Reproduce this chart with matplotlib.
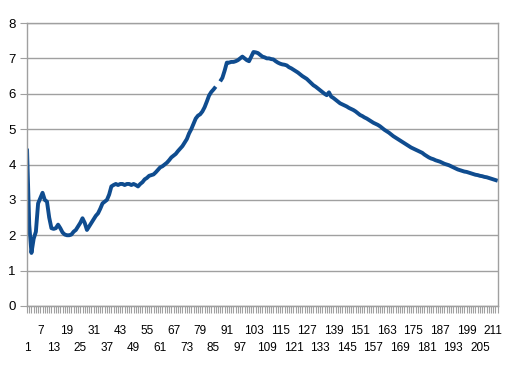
import matplotlib.pyplot as plt
import numpy as np

plt.rcParams['font.family'] = ['Liberation Sans', 'DejaVu Sans']

# series values, one per category (1..213); category 87 has no value
values = [
    4.45, 2.3, 1.5, 1.9, 2.1, 2.9, 3.05, 3.2, 3.0, 2.95,
    2.5, 2.2, 2.18, 2.2, 2.3, 2.2, 2.08, 2.02, 2.0, 2.0,
    2.02, 2.1, 2.15, 2.25, 2.35, 2.48, 2.35, 2.15, 2.25, 2.35,
    2.45, 2.55, 2.62, 2.75, 2.9, 2.95, 3.0, 3.15, 3.38, 3.42,
    3.45, 3.42, 3.45, 3.45, 3.42, 3.45, 3.45, 3.42, 3.45, 3.42,
    3.38, 3.45, 3.5, 3.58, 3.62, 3.68, 3.7, 3.72, 3.78, 3.85,
    3.92, 3.95, 4.0, 4.05, 4.12, 4.2, 4.25, 4.3, 4.38, 4.45,
    4.52, 4.62, 4.72, 4.88, 5.0, 5.15, 5.3, 5.38, 5.42, 5.5,
    5.62, 5.78, 5.95, 6.05, 6.12, 6.2, np.nan, 6.35, 6.45, 6.65,
    6.88, 6.88, 6.9, 6.9, 6.92, 6.95, 7.0, 7.05, 7.0, 6.95,
    6.92, 7.05, 7.18, 7.17, 7.15, 7.1, 7.05, 7.03, 7.0, 7.0,
    6.98, 6.97, 6.92, 6.88, 6.85, 6.83, 6.82, 6.8, 6.75, 6.72,
    6.68, 6.64, 6.6, 6.55, 6.5, 6.46, 6.42, 6.36, 6.3, 6.24,
    6.2, 6.15, 6.1, 6.05, 6.0, 5.96, 6.04, 5.92, 5.88, 5.83,
    5.78, 5.73, 5.7, 5.67, 5.64, 5.6, 5.57, 5.54, 5.5, 5.45,
    5.4, 5.37, 5.33, 5.3, 5.26, 5.22, 5.18, 5.15, 5.12, 5.08,
    5.03, 4.98, 4.94, 4.9, 4.85, 4.8, 4.76, 4.72, 4.68, 4.64,
    4.6, 4.56, 4.52, 4.48, 4.45, 4.42, 4.39, 4.36, 4.33, 4.28,
    4.24, 4.2, 4.17, 4.15, 4.12, 4.1, 4.08, 4.05, 4.02, 4.0,
    3.98, 3.95, 3.92, 3.89, 3.86, 3.84, 3.82, 3.8, 3.79, 3.77,
    3.75, 3.73, 3.71, 3.7, 3.68, 3.67, 3.65, 3.64, 3.62, 3.6,
    3.58, 3.56, 3.54,
]
categories = np.arange(1, len(values) + 1)
upper_labels = categories[6::12]   # 7, 19, 31 ...
lower_labels = categories[0::12]   # 1, 13, 25 ...
y_ticks = [0, 1, 2, 3, 4, 5, 6, 7, 8]

grey = '#a0a0a0'

fig = plt.figure(figsize=(5.16, 3.69), dpi=100)
ax = fig.add_axes([27 / 516, 63 / 369, 470.7 / 516, 283 / 369])

ax.plot(categories, values, color='#0f4c8f', lw=2.8, solid_capstyle='butt')

ax.set_xlim(1, len(values))
ax.set_ylim(0, 8)
ax.set_yticks(y_ticks)
ax.grid(axis='y', color=grey, lw=1)
ax.set_axisbelow(True)
for s in ax.spines.values():
    s.set_color(grey)
    s.set_linewidth(1)

ax.tick_params(axis='y', length=5, color=grey, pad=3, labelsize=9.5)

# labels in two staggered rows
ax.set_xticks(upper_labels, [str(c) for c in upper_labels])
ax.set_xticks(lower_labels, [str(c) for c in lower_labels], minor=True)
ax.tick_params(axis='x', which='major', length=0, pad=14, labelsize=8.5)
ax.tick_params(axis='x', which='minor', length=0, pad=26, labelsize=8.5)

# a tick mark for every category
sec = ax.secondary_xaxis('bottom')
sec.set_xticks(categories)
sec.tick_params(axis='x', length=5, color=grey, width=0.8, labelbottom=False)
sec.spines['bottom'].set_color(grey)

fig.savefig('out.png', dpi=100)
